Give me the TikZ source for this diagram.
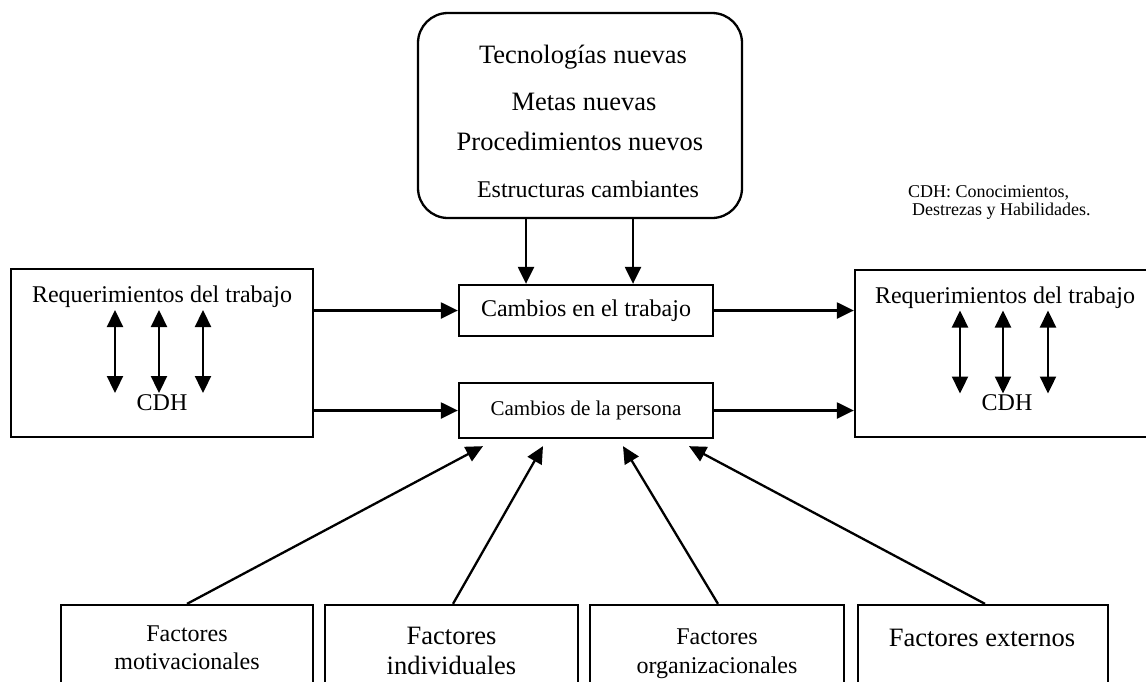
\documentclass[tikz,border=0pt]{standalone}
\usepackage{fontspec}
\setmainfont{Liberation Serif}
\usetikzlibrary{arrows.meta}
\begin{document}
\begin{tikzpicture}[x=1pt,y=-1pt,line width=2.3pt,
  frame/.style={draw,rectangle,inner sep=0pt},
  arr/.style={-{Triangle[length=17pt,width=16pt]}},
  darr/.style={{Triangle[length=17pt,width=16pt]}-{Triangle[length=17pt,width=16pt]}},
  lbl/.style={anchor=base,inner sep=0pt},
  big/.style={font=\fontsize{26.5}{30}\selectfont},
  mid/.style={font=\fontsize{24}{28}\selectfont},
  small/.style={font=\fontsize{21}{25}\selectfont},
  note/.style={font=\fontsize{18}{18}\selectfont}]
\fill[white] (0,0) rectangle (1146,681);
\clip (0,0) rectangle (1146,681);

% new inputs to the job
\node[frame,rounded corners=30pt,minimum width=324pt,minimum height=205pt] (top) at (580,115.5) {};
\node[lbl,big] (t1) at (583,63) {Tecnologías nuevas};
\node[lbl,big] (t2) at (584,110) {Metas nuevas};
\node[lbl,big] (t3) at (580,150) {Procedimientos nuevos};
\node[lbl,mid] (t4) at (588,197) {Estructuras cambiantes};

% central change boxes
\node[frame,minimum width=254pt,minimum height=51pt,mid] (cw) at (586,310.5) {Cambios en el trabajo};
\node[frame,minimum width=254pt,minimum height=55pt,small] (cp) at (586,410.5) {Cambios de la persona};

% job requirements before and after
\node[frame,minimum width=302pt,minimum height=168pt] (lb) at (162,353) {};
\node[lbl,mid] (lreq) at (162,302) {Requerimientos del trabajo};
\node[lbl,mid] (lcdh) at (162,410) {CDH};
\node[frame,minimum width=302pt,minimum height=167pt] (rb) at (1006,353.5) {};
\node[lbl,mid] (rreq) at (1005,303) {Requerimientos del trabajo};
\node[lbl,mid] (rcdh) at (1007,410) {CDH};

\node[anchor=base west,inner sep=0pt,align=left,note] (legend) at (907,215)
  {CDH: Conocimientos,\\\hspace*{4pt}Destrezas y Habilidades.};

% factor boxes
\node[frame,minimum width=252pt,minimum height=115pt] (f1) at (187,662.5) {};
\node[frame,minimum width=253pt,minimum height=115pt] (f2) at (451.5,662.5) {};
\node[frame,minimum width=254pt,minimum height=115pt] (f3) at (717,662.5) {};
\node[frame,minimum width=250pt,minimum height=115pt] (f4) at (983,662.5) {};
\node[lbl,mid] (f1a) at (187,641) {Factores};
\node[lbl,mid] (f1b) at (187,669) {motivacionales};
\node[lbl,big] (f2a) at (451.5,644) {Factores};
\node[lbl,big] (f2b) at (451.5,674) {individuales};
\node[lbl,mid] (f3a) at (717,644) {Factores};
\node[lbl,mid] (f3b) at (717,673) {organizacionales};
\node[lbl,big] (f4a) at (982,646) {Factores externos};

% connectors
\draw[arr] ([xshift=-60pt]cw.north |- top.south) -- ([xshift=-60pt]cw.north);
\draw[arr] ([xshift=47pt]cw.north |- top.south) -- ([xshift=47pt]cw.north);
\draw[arr] (lb.east |- cw.west) -- (cw.west);
\draw[arr] (lb.east |- cp.west) -- (cp.west);
\draw[arr] (cw.east) -- (cw.east -| rb.west);
\draw[arr] (cp.east) -- (cp.east -| rb.west);

\foreach \dx in {-47,-3,41}
  \draw[darr] ([shift={(\dx,-43)}]lb.center) -- ([shift={(\dx,40)}]lb.center);
\foreach \dx in {-46,-3,42}
  \draw[darr] ([shift={(\dx,-43)}]rb.center) -- ([shift={(\dx,40)}]rb.center);

\draw[arr] (f1.north) -- ([shift={(-103,7)}]cp.south);
\draw[arr] ([xshift=1.5pt]f2.north) -- ([shift={(-43,7)}]cp.south);
\draw[arr] ([xshift=1pt]f3.north) -- ([shift={(37,7)}]cp.south);
\draw[arr] ([xshift=2pt]f4.north) -- ([shift={(103,7)}]cp.south);
\end{tikzpicture}
\end{document}
